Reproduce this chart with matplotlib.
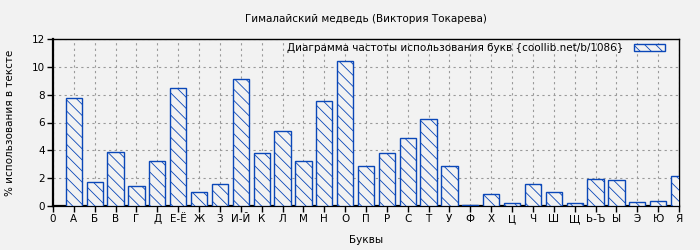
import matplotlib
matplotlib.use("Agg")
import matplotlib.pyplot as plt

letters = ["0", "А", "Б", "В", "Г", "Д", "Е-Ё", "Ж", "З", "И-Й", "К", "Л", "М", "Н",
           "О", "П", "Р", "С", "Т", "У", "Ф", "Х", "Ц", "Ч", "Ш", "Щ", "Ь-Ъ", "Ы",
           "Э", "Ю", "Я"]
values = [7.78, 1.70, 3.86, 1.44, 3.20, 8.47, 0.98, 1.56, 9.11, 3.79, 5.37, 3.20,
          7.53, 10.41, 2.85, 3.79, 4.87, 6.24, 2.85, 0.07, 0.84, 0.19, 1.56, 0.98,
          0.19, 1.92, 1.85, 0.26, 0.34, 2.14]

bg = "#f2f2f2"
blue = "#0a47b8"

plt.rcParams["hatch.color"] = blue
plt.rcParams["hatch.linewidth"] = 0.6
plt.rcParams["font.size"] = 7.5

fig = plt.figure(figsize=(7, 2.5), dpi=100, facecolor=bg)
ax = fig.add_axes([53 / 700, 44 / 250, 626 / 700, 167 / 250], facecolor=bg)

xs = list(range(1, len(values) + 1))
ax.bar(xs, values, width=0.78, facecolor=bg, edgecolor=blue, linewidth=1.0,
       hatch="\\\\\\", label="Диаграмма частоты использования букв {coollib.net/b/1086}",
       zorder=3)

ax.set_xlim(0, 30)
ax.set_ylim(0, 12)
ax.set_xticks(range(len(letters)))
ax.set_xticklabels(letters)
ax.set_yticks(range(0, 13, 2))
ax.tick_params(direction="out", length=4, width=1.0, pad=2)
ax.grid(True, color="#9a9a9a", linestyle=(0, (2, 3)), linewidth=0.8, zorder=0)
for name, s in ax.spines.items():
    s.set_color("black")
    s.set_linewidth(1.6 if name in ("left", "bottom") else 1.0)

ax.set_title("Гималайский медведь (Виктория Токарева)", fontsize=7.5, pad=12)
ax.set_xlabel("Буквы", labelpad=8)
ax.set_ylabel("% использования в тексте", labelpad=12)

leg = ax.legend(loc="upper right", frameon=False, markerfirst=False,
                handlelength=3.0, handleheight=0.6, handletextpad=1.0,
                borderaxespad=0.3, bbox_to_anchor=(0.99, 1.018),
                fontsize=7.5)

fig.savefig("out.png", dpi=100, facecolor=bg)
